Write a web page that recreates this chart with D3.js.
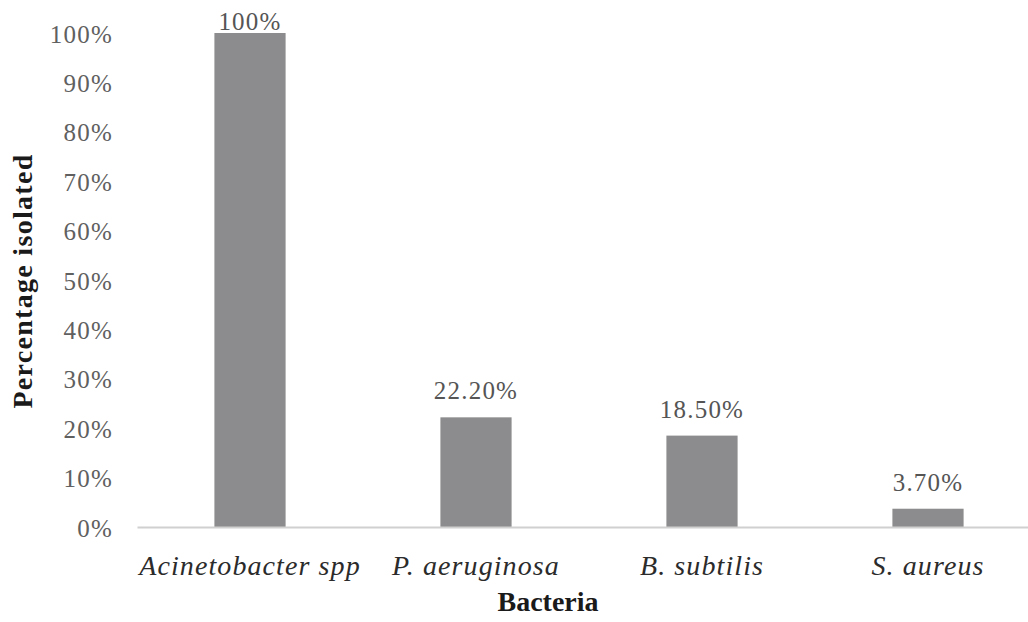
<!DOCTYPE html>
<html>
<head>
<meta charset="utf-8">
<script src="https://cdn.jsdelivr.net/npm/d3@7"></script>
<style>
  html, body { margin: 0; padding: 0; background: #ffffff; }
  svg { display: block; }
  svg text { font-family: "Liberation Serif", "Times New Roman", Times, serif; }
</style>
</head>
<body>
<svg id="chart" width="1028" height="622"></svg>
<script>
// Bacteria isolated, share of samples
const categories = ["Acinetobacter spp", "P. aeruginosa", "B. subtilis", "S. aureus"];
const values = [1.00, 0.222, 0.185, 0.037];
const valueLabels = ["100%", "22.20%", "18.50%", "3.70%"];
const yTicks = [0, 0.1, 0.2, 0.3, 0.4, 0.5, 0.6, 0.7, 0.8, 0.9, 1.0];

const svg = d3.select("#chart");

const x = d3.scaleBand()
  .domain(categories)
  .range([137, 1041])
  .paddingInner(0.685)
  .paddingOuter(0.3425);

const y = d3.scaleLinear()
  .domain([0, 1])
  .range([527, 33]);

// Y axis labels (no line, no ticks)
const yAxis = d3.axisLeft(y)
  .tickValues(yTicks)
  .tickFormat(d3.format(".0%"))
  .tickSize(0)
  .tickPadding(0);

const gy = svg.append("g")
  .attr("transform", "translate(113,0)")
  .call(yAxis);
gy.attr("font-family", null);
gy.select(".domain").remove();
gy.selectAll("text")
  .style("font-size", "25px")
  .attr("letter-spacing", 1.2)
  .attr("fill", "#606060")
  .attr("dy", "0.36em");

// Bars
svg.append("g")
  .selectAll("rect")
  .data(categories)
  .join("rect")
  .attr("x", d => x(d))
  .attr("width", x.bandwidth())
  .attr("y", (d, i) => y(values[i]))
  .attr("height", (d, i) => y(0) - y(values[i]))
  .attr("fill", "#8c8c8e");

// Baseline (category axis)
const xAxis = d3.axisBottom(x).tickSize(0).tickPadding(0);
const gx = svg.append("g")
  .attr("transform", `translate(0,${y(0)})`)
  .call(xAxis);
gx.attr("font-family", null);
gx.select(".domain")
  .attr("stroke", "#d0d0d0")
  .attr("stroke-width", 2);
gx.selectAll("text")
  .style("font-size", "28px")
  .style("font-style", "italic")
  .attr("letter-spacing", 1.1)
  .attr("fill", "#2b2b2b")
  .attr("dy", 0)
  .attr("y", 48);

// Value labels above the bars
svg.append("g")
  .selectAll("text")
  .data(categories)
  .join("text")
  .attr("x", d => x(d) + x.bandwidth() / 2)
  .attr("y", (d, i) => Math.max(y(values[i]) - 18, 30))
  .attr("text-anchor", "middle")
  .style("font-size", "25px")
  .attr("letter-spacing", 1.2)
  .attr("fill", "#555555")
  .text((d, i) => valueLabels[i]);

// Axis titles
svg.append("text")
  .attr("x", 548)
  .attr("y", 611)
  .attr("text-anchor", "middle")
  .style("font-weight", "bold")
  .style("font-size", "28px")
  .attr("fill", "#1a1a1a")
  .text("Bacteria");

svg.append("text")
  .attr("transform", "translate(32,281) rotate(-90)")
  .attr("text-anchor", "middle")
  .style("font-weight", "bold")
  .style("font-size", "28px")
  .attr("letter-spacing", 1.3)
  .attr("fill", "#1a1a1a")
  .text("Percentage isolated");
</script>
</body>
</html>
